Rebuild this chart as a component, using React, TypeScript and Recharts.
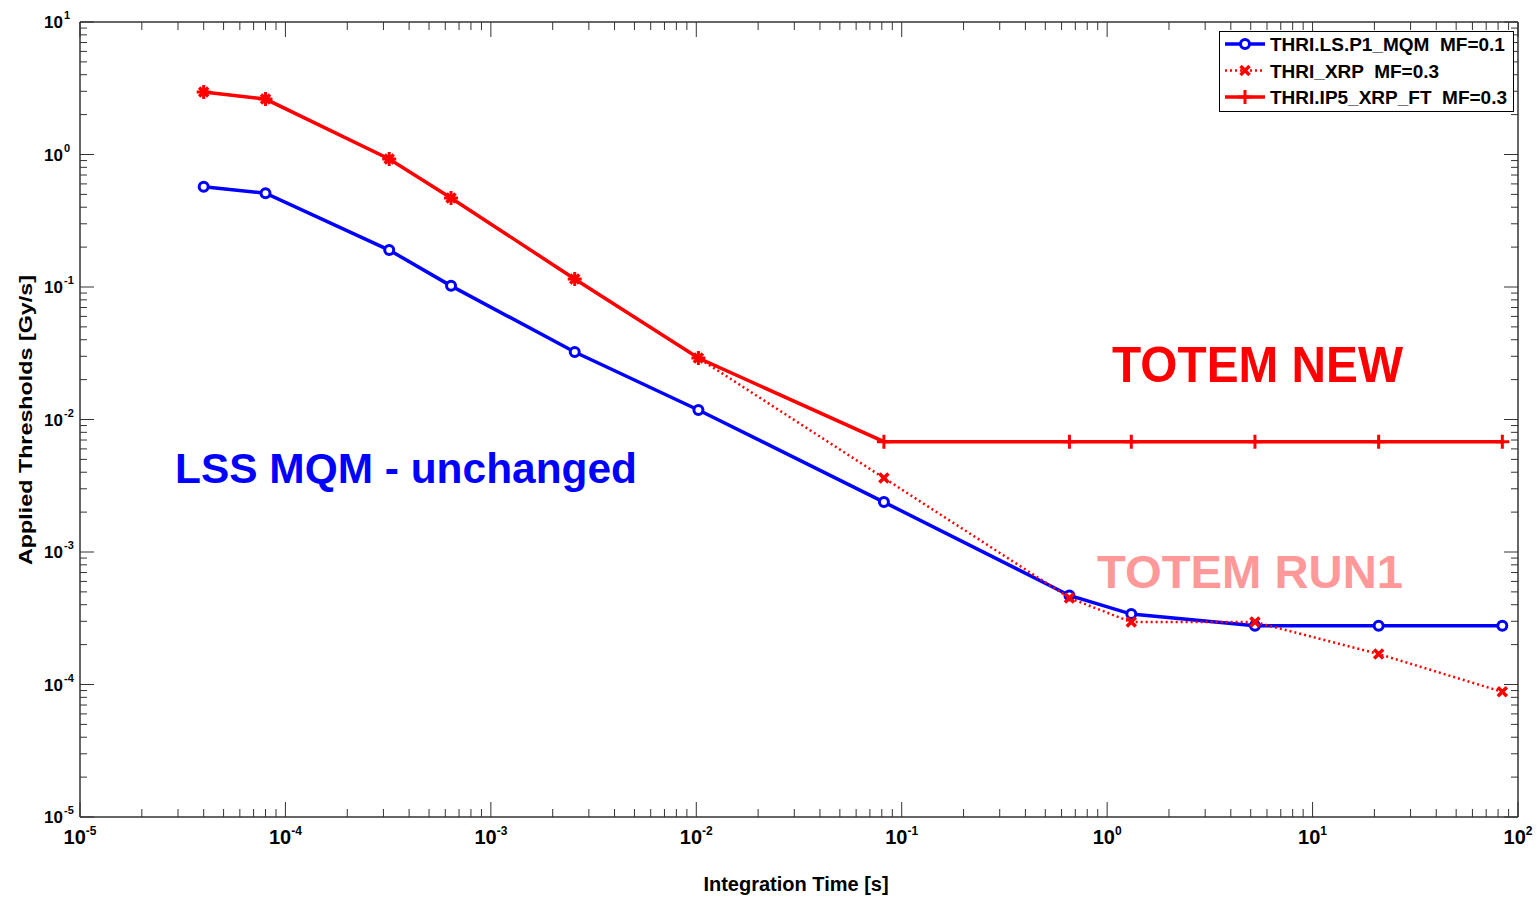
import React from "react";
import { LineChart, Line, XAxis, YAxis, Legend } from "recharts";

// integration windows [s]
const times = [4e-5, 8e-5, 3.2e-4, 6.4e-4, 2.56e-3, 1.024e-2, 8.192e-2, 0.65536, 1.31072, 5.24288, 20.97152, 83.88608];
// applied thresholds [Gy/s]
const mqm = [0.57, 0.51, 0.19, 0.102, 0.0323, 0.0118, 0.00238, 4.7e-4, 3.4e-4, 2.78e-4, 2.78e-4, 2.78e-4];
const xrp = [2.96, 2.62, 0.925, 0.47, 0.115, 0.0291, 0.00362, 4.5e-4, 2.96e-4, 2.96e-4, 1.7e-4, 8.8e-5];
const xrpFt = [2.96, 2.62, 0.925, 0.47, 0.115, 0.0291, 0.0068, 0.0068, 0.0068, 0.0068, 0.0068, 0.0068];

const seriesNames = ["THRI.LS.P1_MQM  MF=0.1", "THRI_XRP  MF=0.3", "THRI.IP5_XRP_FT  MF=0.3"];
const xDecades = [-5, -4, -3, -2, -1, 0, 1, 2];
const yDecades = [-5, -4, -3, -2, -1, 0, 1];

const minorTicks = (decades: number[]) => {
  const out: number[] = [];
  for (let i = 0; i < decades.length - 1; i++) {
    for (let m = 1; m <= 9; m++) out.push(m * Math.pow(10, decades[i]));
  }
  out.push(Math.pow(10, decades[decades.length - 1]));
  return out;
};
const xTicks = minorTicks(xDecades);
const yTicks = minorTicks(yDecades);

const data = times.map((t, i) => ({ t, mqm: mqm[i], xrp: xrp[i], ft: xrpFt[i] }));

const W = 1538;
const H = 898;
const LEFT = 80;
const TOP = 22;
const RIGHT = 1518;
const BOTTOM = 817;
const FONT = "'Liberation Sans', Arial, Helvetica, sans-serif";
const FRAME = "#333";

const isMajor = (v: number) => Math.abs(Math.log10(v) - Math.round(Math.log10(v))) < 1e-6;

const BottomTick = (p: any) => {
  const v = p.payload.value;
  const major = isMajor(v);
  return (
    <g>
      <line x1={p.x} x2={p.x} y1={BOTTOM} y2={BOTTOM - (major ? 15 : 8)} stroke={FRAME} strokeWidth={1} />
      {major && (
        <text x={p.x} y={BOTTOM + 27} textAnchor="middle" fontFamily={FONT} fontWeight="bold" fontSize={20} fill="#000">
          10
          <tspan dy={-9} fontSize={12}>{Math.round(Math.log10(v))}</tspan>
        </text>
      )}
    </g>
  );
};

const TopTick = (p: any) => {
  const major = isMajor(p.payload.value);
  return <line x1={p.x} x2={p.x} y1={TOP} y2={TOP + (major ? 15 : 8)} stroke={FRAME} strokeWidth={1} />;
};

const LeftTick = (p: any) => {
  const v = p.payload.value;
  const major = isMajor(v);
  return (
    <g>
      <line x1={LEFT} x2={LEFT + (major ? 14 : 7)} y1={p.y} y2={p.y} stroke={FRAME} strokeWidth={1} />
      {major && (
        <>
          <text x={63} y={p.y + 6} textAnchor="end" fontFamily={FONT} fontWeight="bold" fontSize={17} fill="#000">10</text>
          <text x={64} y={p.y - 3} textAnchor="start" fontFamily={FONT} fontWeight="bold" fontSize={11} fill="#000">
            {Math.round(Math.log10(v))}
          </text>
        </>
      )}
    </g>
  );
};

const RightTick = (p: any) => {
  const major = isMajor(p.payload.value);
  return <line x1={RIGHT} x2={RIGHT - (major ? 14 : 7)} y1={p.y} y2={p.y} stroke={FRAME} strokeWidth={1} />;
};

const CircleDot = (p: any) => (
  <circle key={`c${p.index}`} cx={p.cx} cy={p.cy} r={4.5} fill="#fff" stroke="#0000ff" strokeWidth={3} />
);

const CrossDot = (p: any) => (
  <path
    key={`x${p.index}`}
    d={`M${p.cx - 4.5},${p.cy - 4.5}L${p.cx + 4.5},${p.cy + 4.5}M${p.cx - 4.5},${p.cy + 4.5}L${p.cx + 4.5},${p.cy - 4.5}`}
    stroke="#ff0000"
    strokeWidth={3.5}
  />
);

const PlusDot = (p: any) => (
  <path
    key={`p${p.index}`}
    d={`M${p.cx - 7},${p.cy}L${p.cx + 7},${p.cy}M${p.cx},${p.cy - 7}L${p.cx},${p.cy + 7}`}
    stroke="#ff0000"
    strokeWidth={3}
  />
);

const LegendBox = () => {
  const rows = [
    { dash: undefined, w: 3.5, marker: (cx: number, cy: number) => <circle cx={cx} cy={cy} r={4.5} fill="#fff" stroke="#0000ff" strokeWidth={3} />, color: "#0000ff" },
    { dash: "2 3", w: 2.5, marker: (cx: number, cy: number) => <path d={`M${cx - 4.5},${cy - 4.5}L${cx + 4.5},${cy + 4.5}M${cx - 4.5},${cy + 4.5}L${cx + 4.5},${cy - 4.5}`} stroke="#ff0000" strokeWidth={3.5} />, color: "#ff0000" },
    { dash: undefined, w: 3.5, marker: (cx: number, cy: number) => <path d={`M${cx - 7},${cy}L${cx + 7},${cy}M${cx},${cy - 7}L${cx},${cy + 7}`} stroke="#ff0000" strokeWidth={3} />, color: "#ff0000" },
  ];
  return (
    <svg width={295} height={81} style={{ display: "block" }}>
      <rect x={0.5} y={0.5} width={294} height={80} fill="#fff" stroke="#000" strokeWidth={1} />
      {rows.map((r, i) => {
        const cy = 13 + i * 26.5;
        return (
          <g key={i}>
            <line x1={6} x2={46} y1={cy} y2={cy} stroke={r.color} strokeWidth={r.w} strokeDasharray={r.dash} />
            {r.marker(26, cy)}
            <text x={51} y={cy + 7} fontFamily={FONT} fontWeight="bold" fontSize={19} fill="#000" style={{ whiteSpace: "pre" }}>
              {seriesNames[i]}
            </text>
          </g>
        );
      })}
    </svg>
  );
};

export default function App() {
  return (
    <div style={{ position: "absolute", left: 0, top: 0, background: "#fff" }}>
      <LineChart width={W} height={H} data={data} margin={{ top: TOP - 1, right: W - RIGHT - 1, bottom: H - BOTTOM - 30, left: LEFT - 60 }}>
        <XAxis
          dataKey="t"
          type="number"
          scale="log"
          domain={[1e-5, 100]}
          allowDataOverflow
          ticks={xTicks}
          interval={0}
          height={30}
          tickSize={0}
          tick={BottomTick}
          axisLine={{ stroke: FRAME, strokeWidth: 1.5 }}
        />
        <XAxis
          xAxisId="top"
          orientation="top"
          dataKey="t"
          type="number"
          scale="log"
          domain={[1e-5, 100]}
          allowDataOverflow
          ticks={xTicks}
          interval={0}
          height={1}
          tickSize={0}
          tick={TopTick}
          axisLine={{ stroke: FRAME, strokeWidth: 1.5 }}
        />
        <YAxis
          type="number"
          scale="log"
          domain={[1e-5, 10]}
          allowDataOverflow
          ticks={yTicks}
          interval={0}
          width={60}
          tickSize={0}
          tick={LeftTick}
          axisLine={{ stroke: FRAME, strokeWidth: 1.5 }}
        />
        <YAxis
          yAxisId="right"
          orientation="right"
          type="number"
          scale="log"
          domain={[1e-5, 10]}
          allowDataOverflow
          ticks={yTicks}
          interval={0}
          width={1}
          tickSize={0}
          tick={RightTick}
          axisLine={{ stroke: FRAME, strokeWidth: 1.5 }}
        />
        <Line dataKey="mqm" name={seriesNames[0]} stroke="#0000ff" strokeWidth={3.5} dot={CircleDot} isAnimationActive={false} />
        <Line dataKey="xrp" name={seriesNames[1]} stroke="#ff0000" strokeWidth={2.5} strokeDasharray="2 3" dot={CrossDot} isAnimationActive={false} />
        <Line dataKey="ft" name={seriesNames[2]} stroke="#ff0000" strokeWidth={3.5} dot={PlusDot} isAnimationActive={false} />
        <Legend
          layout="vertical"
          align="center"
          verticalAlign="middle"
          content={LegendBox}
          wrapperStyle={{ position: "absolute", left: 1219, top: 31, width: 295, height: 81 }}
        />
        <text x={175} y={483} fontFamily={FONT} fontWeight="bold" fontSize={42} fill="#0000ff" textLength={462} lengthAdjust="spacingAndGlyphs">
          LSS MQM - unchanged
        </text>
        <text x={1112} y={382} fontFamily={FONT} fontWeight="bold" fontSize={50} fill="#ff0000" textLength={291} lengthAdjust="spacingAndGlyphs">
          TOTEM NEW
        </text>
        <text x={1097} y={588} fontFamily={FONT} fontWeight="bold" fontSize={46} fill="#ff9999" textLength={306} lengthAdjust="spacingAndGlyphs">
          TOTEM RUN1
        </text>
        <text x={796} y={891} textAnchor="middle" fontFamily={FONT} fontWeight="bold" fontSize={20} fill="#000">
          Integration Time [s]
        </text>
        <text
          x={32}
          y={420}
          transform="rotate(-90, 32, 420)"
          textAnchor="middle"
          fontFamily={FONT}
          fontWeight="bold"
          fontSize={18}
          fill="#000"
          textLength={290}
          lengthAdjust="spacingAndGlyphs"
        >
          Applied Thresholds [Gy/s]
        </text>
      </LineChart>
    </div>
  );
}
